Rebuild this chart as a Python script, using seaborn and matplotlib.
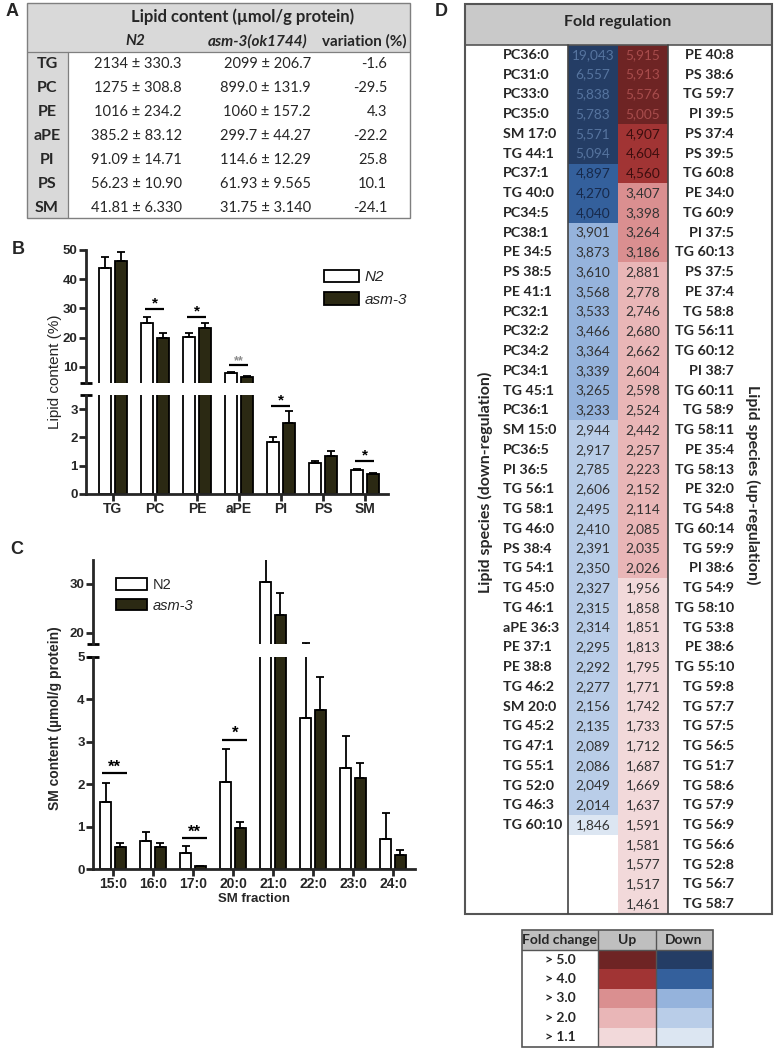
import numpy as np
import pandas as pd
import matplotlib
matplotlib.use('Agg')
import matplotlib.pyplot as plt
from matplotlib.colors import ListedColormap
from matplotlib.patches import Rectangle, Patch
import seaborn as sns

# ---------------- panel A: tabla de contenido lipídico
a_clases = ['TG', 'PC', 'PE', 'aPE', 'PI', 'PS', 'SM']
a_n2 = ['2134 ± 330.3', '1275 ± 308.8', '1016 ± 234.2', '385.2 ± 83.12',
        '91.09 ± 14.71', '56.23 ± 10.90', '41.81 ± 6.330']
a_asm = ['2099 ± 206.7', '899.0 ± 131.9', '1060 ± 157.2', '299.7 ± 44.27',
         '114.6 ± 12.29', '61.93 ± 9.565', '31.75 ± 3.140']
a_variacion = [-1.6, -29.5, 4.3, -22.2, 25.8, 10.1, -24.1]

# ---------------- panel B: % de lípidos por clase
clases = ['TG', 'PC', 'PE', 'aPE', 'PI', 'PS', 'SM']
n2_pct = [43.8, 25.0, 20.2, 7.8, 1.84, 1.11, 0.85]
n2_pct_err = [3.8, 2.1, 1.4, 0.3, 0.17, 0.06, 0.05]
asm_pct = [46.2, 19.9, 23.3, 6.7, 2.52, 1.34, 0.70]
asm_pct_err = [3.1, 1.7, 1.7, 0.25, 0.40, 0.18, 0.03]
sig_b_clase = ['PC', 'PE', 'aPE', 'PI', 'SM']
sig_b_altura = [29.8, 27.2, 10.5, 3.1, 1.18]
sig_b_texto = ['*', '*', '**', '*', '*']

# ---------------- panel C: fracciones de SM
fracciones = ['15:0', '16:0', '17:0', '20:0', '21:0', '22:0', '23:0', '24:0']
n2_sm = [1.58, 0.65, 0.38, 2.06, 30.3, 3.55, 2.39, 0.71]
n2_sm_err = [0.45, 0.23, 0.16, 0.78, 5.5, 14.3, 0.75, 0.61]
asm_sm = [0.53, 0.52, 0.06, 0.96, 23.6, 3.76, 2.15, 0.34]
asm_sm_err = [0.08, 0.09, 0.01, 0.16, 4.6, 0.76, 0.36, 0.10]
sig_c_fraccion = ['15:0', '17:0', '20:0']
sig_c_altura = [2.26, 0.72, 3.05]
sig_c_texto = ['**', '**', '*']

# ---------------- panel D: regulación (fold change)
down_especies = ['PC36:0', 'PC31:0', 'PC33:0', 'PC35:0', 'SM 17:0', 'TG 44:1', 'PC37:1',
                 'TG 40:0', 'PC34:5', 'PC38:1', 'PE 34:5', 'PS 38:5', 'PE 41:1', 'PC32:1',
                 'PC32:2', 'PC34:2', 'PC34:1', 'TG 45:1', 'PC36:1', 'SM 15:0', 'PC36:5',
                 'PI 36:5', 'TG 56:1', 'TG 58:1', 'TG 46:0', 'PS 38:4', 'TG 54:1', 'TG 45:0',
                 'TG 46:1', 'aPE 36:3', 'PE 37:1', 'PE 38:8', 'TG 46:2', 'SM 20:0', 'TG 45:2',
                 'TG 47:1', 'TG 55:1', 'TG 52:0', 'TG 46:3', 'TG 60:10']
down_valores = [19.043, 6.557, 5.838, 5.783, 5.571, 5.094, 4.897, 4.270, 4.040, 3.901,
                3.873, 3.610, 3.568, 3.533, 3.466, 3.364, 3.339, 3.265, 3.233, 2.944,
                2.917, 2.785, 2.606, 2.495, 2.410, 2.391, 2.350, 2.327, 2.315, 2.314,
                2.295, 2.292, 2.277, 2.156, 2.135, 2.089, 2.086, 2.049, 2.014, 1.846]
up_especies = ['PE 40:8', 'PS 38:6', 'TG 59:7', 'PI 39:5', 'PS 37:4', 'PS 39:5', 'TG 60:8',
               'PE 34:0', 'TG 60:9', 'PI 37:5', 'TG 60:13', 'PS 37:5', 'PE 37:4', 'TG 58:8',
               'TG 56:11', 'TG 60:12', 'PI 38:7', 'TG 60:11', 'TG 58:9', 'TG 58:11', 'PE 35:4',
               'TG 58:13', 'PE 32:0', 'TG 54:8', 'TG 60:14', 'TG 59:9', 'PI 38:6', 'TG 54:9',
               'TG 58:10', 'TG 53:8', 'PE 38:6', 'TG 55:10', 'TG 59:8', 'TG 57:7', 'TG 57:5',
               'TG 56:5', 'TG 51:7', 'TG 58:6', 'TG 57:9', 'TG 56:9', 'TG 56:6', 'TG 52:8',
               'TG 56:7', 'TG 58:7']
up_valores = [5.915, 5.913, 5.576, 5.005, 4.907, 4.604, 4.560, 3.407, 3.398, 3.264,
              3.186, 2.881, 2.778, 2.746, 2.680, 2.662, 2.604, 2.598, 2.524, 2.442,
              2.257, 2.223, 2.152, 2.114, 2.085, 2.035, 2.026, 1.956, 1.858, 1.851,
              1.813, 1.795, 1.771, 1.742, 1.733, 1.712, 1.687, 1.669, 1.637, 1.591,
              1.581, 1.577, 1.517, 1.461]
niveles = [1.1, 2.0, 3.0, 4.0, 5.0]
niveles_txt = ['> 5.0', '> 4.0', '> 3.0', '> 2.0', '> 1.1']

# colores
OSCURO = '#2b2913'
colores_up = ['#f2d9da', '#e9b6b7', '#da8f90', '#a13434', '#6e2424']
colores_down = ['#dce6f2', '#b9cde8', '#95b3dc', '#34609c', '#243d65']
texto_celda = ['#333333', '#333333', '#333333', '#3c0e0e', '#a84c4c',
               '#333333', '#333333', '#333333', '#17294a', '#56749f']

W, H = 775, 1049
sns.set_theme(style='white')
plt.rcParams['font.family'] = ['Liberation Sans', 'DejaVu Sans']
TABLA = ['Lato', 'DejaVu Sans']

fig = plt.figure(figsize=(W / 100, H / 100), dpi=100)


def ejes_px(x0, y0, x1, y1):
    return fig.add_axes([x0 / W, 1 - y1 / H, (x1 - x0) / W, (y1 - y0) / H])


def lienzo_px(x0, y0, x1, y1):
    ax = ejes_px(x0, y0, x1, y1)
    ax.set_xlim(x0, x1)
    ax.set_ylim(y1, y0)
    ax.axis('off')
    return ax


def letra(x, y, t):
    fig.text(x / W, 1 - y / H, t, fontsize=13, fontweight='bold', va='center', ha='left')


# ================= A
ax_a = lienzo_px(27, 3, 410, 218)
ax_a.add_patch(Rectangle((27, 3), 383, 49, facecolor='#d9d9d9', edgecolor='none'))
ax_a.add_patch(Rectangle((27, 52), 41, 166, facecolor='#d9d9d9', edgecolor='none'))
ax_a.add_patch(Rectangle((27, 3), 383, 215, facecolor='none', edgecolor='#7f7f7f', lw=1, clip_on=False))
ax_a.plot([27, 410], [52, 52], color='#7f7f7f', lw=0.9)
ax_a.plot([68, 68], [52, 218], color='#7f7f7f', lw=0.9)
ax_a.text(243, 17, 'Lipid content (µmol/g protein)', family=TABLA, fontsize=12,
          fontweight='bold', ha='center', va='center')
ax_a.text(135, 41, 'N2', family=TABLA, fontsize=11, fontweight='bold', style='italic',
          ha='center', va='center')
ax_a.text(258, 41, 'asm-3(ok1744)', family=TABLA, fontsize=11, fontweight='bold',
          style='italic', ha='center', va='center')
ax_a.text(364, 41, 'variation (%)', family=TABLA, fontsize=11, fontweight='bold',
          ha='center', va='center')
for i, c in enumerate(a_clases):
    y = 64 + 24 * i
    ax_a.text(47, y, c, family=TABLA, fontsize=11.5, fontweight='bold', ha='center', va='center')
    ax_a.text(182, y, a_n2[i], family=TABLA, fontsize=10.5, ha='right', va='center')
    ax_a.text(311, y, a_asm[i], family=TABLA, fontsize=10.5, ha='right', va='center')
    ax_a.text(387, y, f'{a_variacion[i]:.1f}', family=TABLA, fontsize=10.5, ha='right', va='center')
letra(6, 12, 'A')

# ================= B y C (ejes rotos)
paleta = {'N2': 'white', 'asm-3': OSCURO}


def barras_rotas(ax_sup, ax_inf, categorias, v_n2, e_n2, v_asm, e_asm, ancho, hueco):
    df = pd.DataFrame({'cat': categorias * 2,
                       'grupo': ['N2'] * len(categorias) + ['asm-3'] * len(categorias),
                       'valor': v_n2 + v_asm})
    for ax in (ax_sup, ax_inf):
        sns.barplot(data=df, x='cat', y='valor', hue='grupo', palette=paleta, saturation=1,
                    edgecolor='black', linewidth=1.3, width=ancho, gap=hueco,
                    errorbar=None, legend=False, ax=ax)
        for cont, err in zip(ax.containers, [e_n2, e_asm]):
            xs = [p.get_x() + p.get_width() / 2 for p in cont]
            hs = [p.get_height() for p in cont]
            ax.errorbar(xs, hs, yerr=[np.zeros(len(err)), err], fmt='none', ecolor='black',
                        elinewidth=1.3, capsize=3, capthick=1.3)
        ax.set_xlabel('')
        ax.set_ylabel('')
        ax.spines[['top', 'right']].set_visible(False)
        ax.spines['left'].set_linewidth(2)
        ax.spines['bottom'].set_linewidth(2)
        ax.tick_params(axis='y', direction='out', length=5, width=2, labelsize=9.5, pad=1, left=True)
    ax_sup.spines['bottom'].set_visible(False)
    ax_sup.tick_params(axis='x', bottom=False, labelbottom=False)
    ax_inf.tick_params(axis='x', direction='out', length=5, width=2, labelsize=10, pad=1, bottom=True)
    # marcas del corte
    ax_sup.plot([0], [0], marker='_', ms=9, mew=2, color='black', transform=ax_sup.transAxes, clip_on=False)
    ax_inf.plot([0], [1], marker='_', ms=9, mew=2, color='black', transform=ax_inf.transAxes, clip_on=False)


def significancia(ax_sup, ax_inf, categorias, sig_cat, sig_alt, sig_txt, izq, der, tam, colores):
    lim = ax_inf.get_ylim()[1]
    for c, h, t, col in zip(sig_cat, sig_alt, sig_txt, colores):
        i = categorias.index(c)
        ax = ax_sup if h > lim else ax_inf
        ax.plot([i - izq, i + der], [h, h], color='black', lw=1.6, solid_capstyle='butt')
        ax.annotate(t, (i + (der - izq) / 2, h), xytext=(0, -1), textcoords='offset points',
                    ha='center', va='bottom', fontsize=tam if t == '*' or col == 'black' else tam - 2,
                    color=col, fontweight='bold')


def negrita(ax):
    for t in ax.get_xticklabels() + ax.get_yticklabels():
        t.set_fontweight('bold')


# ---- B
ax_b1 = ejes_px(86, 250, 388, 383)
ax_b2 = ejes_px(86, 395, 388, 494)
barras_rotas(ax_b1, ax_b2, clases, n2_pct, n2_pct_err, asm_pct, asm_pct_err, 0.76, 0.22)
for ax in (ax_b1, ax_b2):
    ax.set_xlim(-0.64, 6.55)
ax_b1.set_ylim(4.5, 50)
ax_b1.set_yticks([10, 20, 30, 40, 50])
ax_b2.set_ylim(0, 3.5)
ax_b2.set_yticks([0, 1, 2, 3])
significancia(ax_b1, ax_b2, clases, sig_b_clase, sig_b_altura, sig_b_texto, 0.23, 0.22, 11,
              ['black', 'black', '#8c8c8c', 'black', 'black'])
negrita(ax_b1)
negrita(ax_b2)
fig.text(55 / W, 1 - 372 / H, 'Lipid content (%)', rotation=90, ha='center', va='center', fontsize=11)
leg = ax_b1.legend([Patch(facecolor='white', edgecolor='black', lw=1.3),
                    Patch(facecolor=OSCURO, edgecolor='black', lw=1.3)], ['N2', 'asm-3'],
                   loc='upper left', bbox_to_anchor=(310 / W, 1 - 256 / H), bbox_transform=fig.transFigure,
                   frameon=False, handlelength=2.3, handleheight=0.9, handletextpad=0.4,
                   labelspacing=0.5, prop={'size': 11, 'style': 'italic'})
letra(12, 250, 'B')

# ---- C
ax_c1 = ejes_px(93, 560, 415, 644)
ax_c2 = ejes_px(93, 657, 415, 869)
barras_rotas(ax_c1, ax_c2, fracciones, n2_sm, n2_sm_err, asm_sm, asm_sm_err, 0.74, 0.27)
for ax in (ax_c1, ax_c2):
    ax.set_xlim(-0.5, 7.55)
ax_c1.set_ylim(17.7, 34.9)
ax_c1.set_yticks([20, 30])
ax_c2.set_ylim(0, 5)
ax_c2.set_yticks([0, 1, 2, 3, 4, 5])
significancia(ax_c1, ax_c2, fracciones, sig_c_fraccion, sig_c_altura, sig_c_texto, 0.27, 0.36, 12,
              ['black'] * 3)
negrita(ax_c1)
negrita(ax_c2)
ax_c2.set_xlabel('SM fraction', fontsize=9.5, fontweight='bold', labelpad=1)
fig.text(55 / W, 1 - 718 / H, 'SM content (µmol/g protein)', rotation=90, ha='center', va='center',
         fontsize=10, fontweight='bold')
leg = ax_c1.legend([Patch(facecolor='white', edgecolor='black', lw=1.3),
                    Patch(facecolor=OSCURO, edgecolor='black', lw=1.3)], ['N2', 'asm-3'],
                   loc='upper left', bbox_to_anchor=(103 / W, 1 - 565 / H), bbox_transform=fig.transFigure,
                   frameon=False, handlelength=2.1, handleheight=0.8, handletextpad=0.4,
                   labelspacing=0.45, prop={'size': 10.5})
leg.get_texts()[1].set_fontstyle('italic')
letra(10, 549, 'C')

# ================= D
n_filas = len(up_especies)
codigos = np.full((n_filas, 2), np.nan)
codigos[:len(down_valores), 0] = 5 + np.digitize(down_valores, niveles[1:])
codigos[:, 1] = np.digitize(up_valores, niveles[1:])
anotes = np.full((n_filas, 2), '', dtype=object)
anotes[:len(down_valores), 0] = [f'{v:.3f}'.replace('.', ',') for v in down_valores]
anotes[:, 1] = [f'{v:.3f}'.replace('.', ',') for v in up_valores]
cmap_fc = ListedColormap(colores_up + colores_down)

ax_d = lienzo_px(465, 4, 772, 914)
ax_d.add_patch(Rectangle((465, 4), 307, 41, facecolor='#c9c9c9', edgecolor='none'))
ax_d.text(618, 22, 'Fold regulation', family=TABLA, fontsize=11.5, fontweight='bold',
          ha='center', va='center')

ax_dh = ejes_px(568, 45, 668, 914)
sns.heatmap(pd.DataFrame(codigos), mask=np.isnan(codigos), cmap=cmap_fc, vmin=-0.5, vmax=9.5,
            cbar=False, annot=anotes, fmt='', annot_kws={'fontsize': 9.8, 'family': TABLA},
            xticklabels=False, yticklabels=False, ax=ax_dh)
for t in ax_dh.texts:
    x, y = t.get_position()
    t.set_color(texto_celda[int(codigos[int(y), int(x)])])
for i, e in enumerate(down_especies):
    ax_dh.text(-1.3, i + 0.5, e, family=TABLA, fontsize=10.3, fontweight='bold',
               ha='left', va='center', clip_on=False)
for i, e in enumerate(up_especies):
    ax_dh.text(3.32, i + 0.5, e, family=TABLA, fontsize=10.3, fontweight='bold',
               ha='right', va='center', clip_on=False)

# líneas de la tabla por encima del mapa de calor
ax_d2 = lienzo_px(465, 4, 772, 914)
ax_d2.add_patch(Rectangle((465, 4), 307, 910, facecolor='none', edgecolor='#555555', lw=1.5, clip_on=False))
ax_d2.plot([465, 772], [45, 45], color='#555555', lw=1.2)
ax_d2.plot([568, 568], [45, 914], color='#444444', lw=1.2)
ax_d2.plot([668, 668], [45, 914], color='#444444', lw=1.2)
fig.text(485 / W, 1 - 482 / H, 'Lipid species (down-regulation)', rotation=90, ha='center', va='center',
         family=TABLA, fontsize=11.5, fontweight='bold')
fig.text(753 / W, 1 - 485 / H, 'Lipid species (up-regulation)', rotation=270, ha='center', va='center',
         family=TABLA, fontsize=11.5, fontweight='bold')
letra(435, 11, 'D')

# ---- leyenda de colores
ax_l = lienzo_px(522, 930, 713, 1047)
ax_l.add_patch(Rectangle((522, 930), 191, 20, facecolor='#bfbfbf', edgecolor='none'))
for x, t in zip([560, 627, 684], ['Fold change', 'Up', 'Down']):
    ax_l.text(x, 940, t, family=TABLA, fontsize=10, fontweight='bold', ha='center', va='center')
leyenda_cod = np.array([[4 - k, 9 - k] for k in range(len(niveles))], dtype=float)
ax_lh = ejes_px(598, 950, 713, 1047)
sns.heatmap(pd.DataFrame(leyenda_cod), cmap=cmap_fc, vmin=-0.5, vmax=9.5, cbar=False,
            xticklabels=False, yticklabels=False, ax=ax_lh)
for i, t in enumerate(niveles_txt):
    ax_lh.text(-0.66, i + 0.5, t, family=TABLA, fontsize=10, fontweight='bold',
               ha='center', va='center', clip_on=False)
ax_l2 = lienzo_px(522, 930, 713, 1047)
ax_l2.add_patch(Rectangle((522, 930), 191, 117, facecolor='none', edgecolor='#555555', lw=1.2, clip_on=False))
ax_l2.plot([522, 713], [950, 950], color='#555555', lw=1)
ax_l2.plot([598, 598], [930, 1047], color='#555555', lw=1)
ax_l2.plot([656, 656], [930, 1047], color='#555555', lw=1)

fig.savefig('out.png', dpi=100)
